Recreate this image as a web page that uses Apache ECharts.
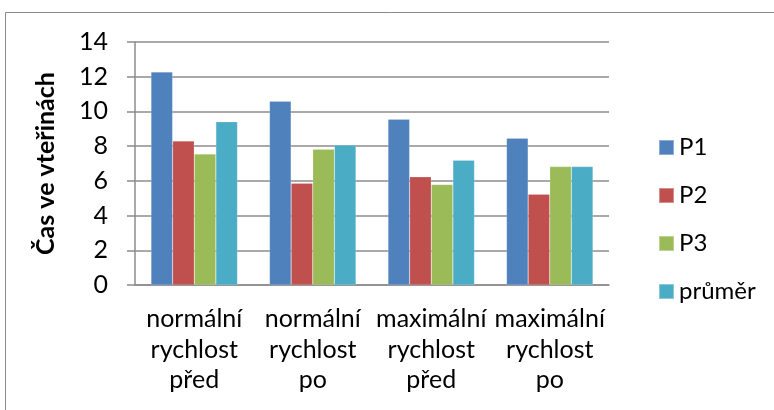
<!DOCTYPE html>
<html>
<head>
<meta charset="utf-8">
<script src="https://cdn.jsdelivr.net/npm/echarts@6/dist/echarts.min.js"></script>
<style>
  html, body { margin: 0; padding: 0; background: #fff; }
  #chart { width: 774px; height: 410px; }
</style>
</head>
<body>
<div id="chart"></div>
<script>
// Category labels (three-line)
const categories = [
  'normální\nrychlost\npřed',
  'normální\nrychlost\npo',
  'maximální\nrychlost\npřed',
  'maximální\nrychlost\npo'
];
const seriesNames = ['P1', 'P2', 'P3', 'průměr'];
const p1 = [12.27, 10.59, 9.55, 8.46];
const p2 = [8.30, 5.86, 6.23, 5.23];
const p3 = [7.55, 7.82, 5.79, 6.82];
const prumer = [9.40, 8.07, 7.19, 6.82];
const yTicks = [0, 2, 4, 6, 8, 10, 12, 14];

const colors = ['#4F81BD', '#C0504D', '#9BBB59', '#4BACC6'];
const font = 'Lato, "Open Sans", sans-serif';

const chart = echarts.init(document.getElementById('chart'), null, { renderer: 'canvas' });

const values = [p1, p2, p3, prumer];
chart.setOption({
  animation: false,
  color: colors,
  textStyle: { fontFamily: font },
  graphic: [{
    type: 'rect',
    shape: { x: 5.5, y: 12.5, width: 800, height: 440 },
    style: { fill: 'none', stroke: '#8a8a8a', lineWidth: 1 },
    silent: true
  }],
  grid: { left: 135, right: 165, top: 42, bottom: 125 },
  legend: {
    orient: 'vertical',
    left: 653,
    top: 130,
    itemWidth: 15,
    itemHeight: 15,
    itemGap: 23,
    itemTextGap: 5,
    icon: 'rect',
    data: seriesNames,
    textStyle: { fontSize: 24, color: '#000', fontFamily: font, lineHeight: 25 }
  },
  xAxis: {
    type: 'category',
    data: categories,
    axisLine: { lineStyle: { color: '#8c8c8c', width: 1.5 } },
    axisTick: { show: false },
    axisLabel: {
      color: '#000', fontSize: 25, lineHeight: 30.5, margin: 19,
      fontFamily: font, interval: 0
    }
  },
  yAxis: {
    type: 'value',
    min: yTicks[0],
    max: yTicks[yTicks.length - 1],
    interval: 2,
    name: 'Čas ve vteřinách',
    nameLocation: 'middle',
    nameGap: 77,
    nameTextStyle: { fontSize: 25, fontWeight: 'bold', color: '#000', fontFamily: font },
    axisLine: { show: true, lineStyle: { color: '#8c8c8c', width: 1.5 } },
    axisTick: { show: true, inside: false, length: 8, lineStyle: { color: '#8c8c8c', width: 1.5 } },
    axisLabel: { color: '#000', fontSize: 25, margin: 27, fontFamily: font },
    splitLine: { lineStyle: { color: '#8c8c8c', width: 1.5 } }
  },
  series: values.map((v, i) => ({
    name: seriesNames[i],
    type: 'bar',
    data: v,
    barGap: '0%',
    barCategoryGap: '27%',
    itemStyle: { color: colors[i], borderColor: 'rgba(255,255,255,0.35)', borderWidth: 0.5 }
  }))
});
</script>
</body>
</html>
